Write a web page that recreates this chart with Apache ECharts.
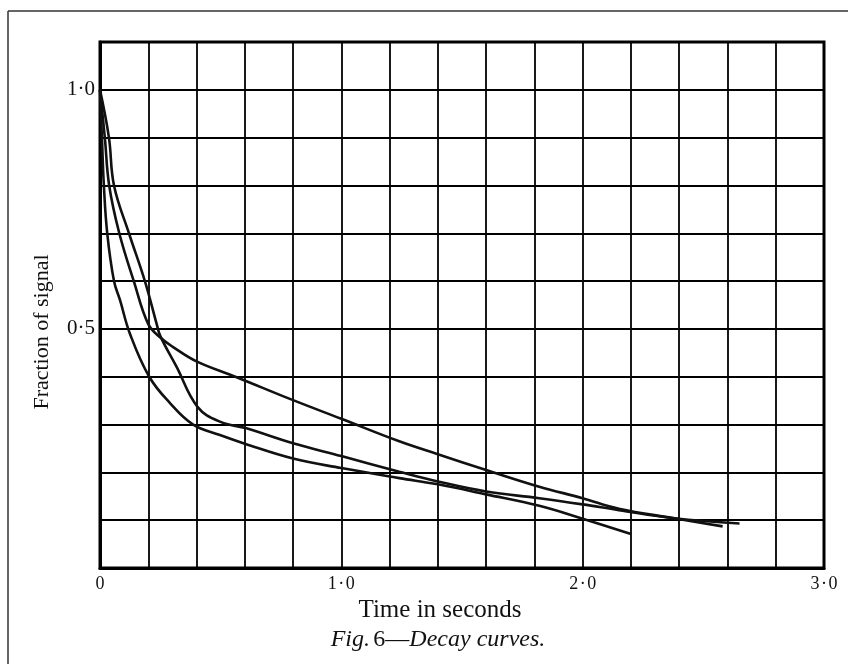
<!DOCTYPE html>
<html>
<head>
<meta charset="utf-8">
<script src="https://cdn.jsdelivr.net/npm/echarts@6/dist/echarts.min.js"></script>
<style>
html,body{margin:0;padding:0;background:#fff;}
#chart{width:848px;height:664px;}
</style>
</head>
<body>
<div id="chart"></div>
<script>
// Tick labels
var xTickValues = [0, 1, 2, 3];
var xTickLabels = ['0', '1\u200A·\u200A0', '2\u200A·\u200A0', '3\u200A·\u200A0'];
var yTickValues = [0.5, 1.0];
var yTickLabels = ['0·5', '1·0'];

// Curve 1 (upper tail)
var upperT = [0, 0.02, 0.038, 0.08, 0.14, 0.2, 0.25, 0.3, 0.4, 0.566, 0.8, 1.0, 1.24, 1.4, 1.6, 1.82, 2.0, 2.15, 2.38, 2.58];
var upperV = [1.0, 0.9, 0.8, 0.7, 0.6, 0.51, 0.482, 0.463, 0.432, 0.399, 0.351, 0.312, 0.265, 0.238, 0.205, 0.17, 0.146, 0.124, 0.104, 0.087];

// Curve 2 (middle tail)
var middleT = [0, 0.037, 0.058, 0.12, 0.186, 0.235, 0.25, 0.317, 0.404, 0.497, 0.607, 0.8, 1.0, 1.24, 1.4, 1.6, 1.82, 2.0, 2.15, 2.38, 2.65];
var middleV = [1.0, 0.9, 0.8, 0.7, 0.6, 0.51, 0.485, 0.421, 0.337, 0.306, 0.292, 0.261, 0.234, 0.2015, 0.181, 0.16, 0.146, 0.133, 0.121, 0.104, 0.093];

// Curve 3 (fast decay, lowest tail)
var lowerT = [0, 0.008, 0.016, 0.03, 0.058, 0.083, 0.124, 0.204, 0.29, 0.386, 0.497, 0.6, 0.8, 1.0, 1.24, 1.4, 1.6, 1.82, 2.0, 2.2];
var lowerV = [1.0, 0.9, 0.8, 0.7, 0.6, 0.56, 0.49, 0.40, 0.345, 0.30, 0.278, 0.26, 0.229, 0.209, 0.188, 0.175, 0.154, 0.13, 0.103, 0.071];

function pairs(t, v) { return t.map(function (x, i) { return [x, v[i]]; }); }
function findLabel(vals, labels, v) {
  for (var i = 0; i < vals.length; i++) { if (Math.abs(vals[i] - v) < 1e-6) return labels[i]; }
  return '';
}

var FONT = "'Liberation Serif', 'DejaVu Serif', serif";
var chart = echarts.init(document.getElementById('chart'), null, {renderer: 'canvas'});

function curve(name, t, v) {
  return {
    name: name, type: 'line', data: pairs(t, v),
    showSymbol: false, smooth: 0.4,
    lineStyle: {color: '#111', width: 2.6},
    silent: true, animation: false
  };
}

chart.setOption({
  backgroundColor: '#fff',
  animation: false,
  grid: {left: 100, right: 24, top: 42, bottom: 96, show: true, borderColor: '#000', borderWidth: 3, backgroundColor: 'transparent'},
  xAxis: {
    type: 'value', min: 0, max: 3, interval: 0.2,
    axisLine: {show: true, lineStyle: {color: '#000', width: 3}},
    axisTick: {show: false},
    splitLine: {show: true, lineStyle: {color: '#000', width: 1.8}},
    axisLabel: {
      show: true, margin: 7, color: '#111', fontFamily: FONT, fontSize: 18,
      showMinLabel: true, showMaxLabel: true,
      formatter: function (v) { return findLabel(xTickValues, xTickLabels, v); }
    }
  },
  yAxis: {
    type: 'value', min: 0, max: 1.1, interval: 0.1,
    axisLine: {show: true, lineStyle: {color: '#000', width: 3}},
    axisTick: {show: false},
    splitLine: {show: true, lineStyle: {color: '#000', width: 1.8}},
    axisLabel: {
      show: true, margin: 5, color: '#111', fontFamily: FONT, fontSize: 21,
      formatter: function (v) { return findLabel(yTickValues, yTickLabels, v); }
    }
  },
  series: [
    curve('Curve A', upperT, upperV),
    curve('Curve B', middleT, middleV),
    curve('Curve C', lowerT, lowerV)
  ],
  graphic: [
    {type: 'line', shape: {x1: 8, y1: 11, x2: 848, y2: 11}, style: {stroke: '#333', lineWidth: 1.5}, silent: true},
    {type: 'line', shape: {x1: 8, y1: 11, x2: 8, y2: 664}, style: {stroke: '#333', lineWidth: 1.5}, silent: true},
    {type: 'text', x: 42, y: 332, rotation: Math.PI / 2,
      style: {text: 'Fraction of signal', fill: '#111', font: "22px " + FONT, textAlign: 'center', textVerticalAlign: 'middle'}, silent: true},
    {type: 'text', x: 440, y: 610,
      style: {text: 'Time in seconds', fill: '#111', font: "25px " + FONT, textAlign: 'center', textVerticalAlign: 'middle'}, silent: true},
    {type: 'text', x: 438, y: 640,
      style: {
        text: '{i|Fig.} {r|6—}{i|Decay curves.}',
        textAlign: 'center', textVerticalAlign: 'middle',
        rich: {
          i: {fontFamily: FONT, fontStyle: 'italic', fontSize: 24, fill: '#111'},
          r: {fontFamily: FONT, fontSize: 24, fill: '#111'}
        }
      }, silent: true}
  ]
});
</script>
</body>
</html>
